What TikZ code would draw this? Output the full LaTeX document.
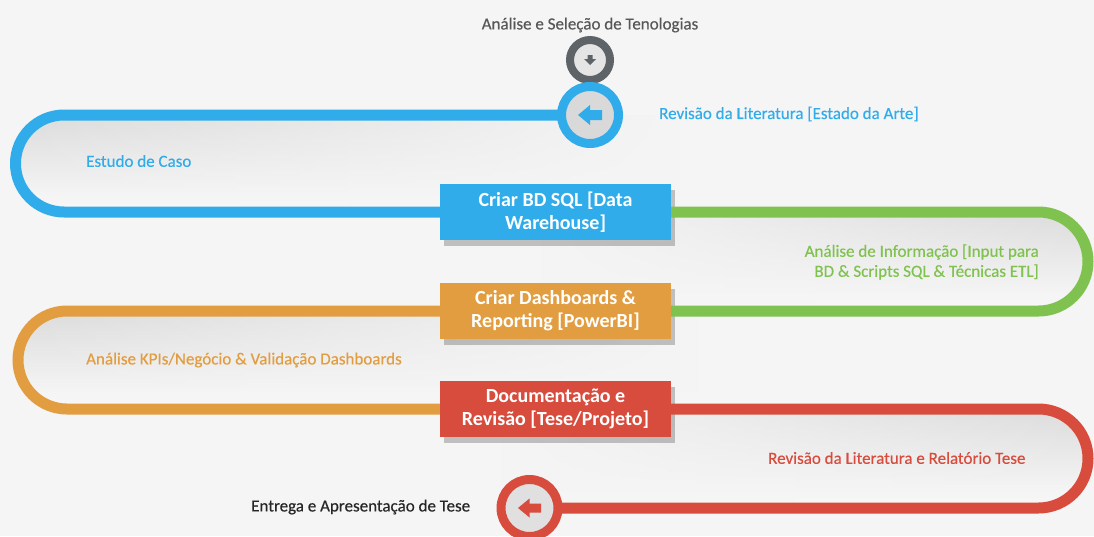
\documentclass[tikz,border=0pt]{standalone}
\usepackage{fontspec}
\setmainfont{Carlito}
\newfontfamily\lblfont{Carlito}[FakeBold=0.35]
\usetikzlibrary{shadows,fadings}
\definecolor{cblue}{HTML}{31ACEA}
\definecolor{cgreen}{HTML}{80C24F}
\definecolor{corange}{HTML}{E29D40}
\definecolor{cred}{HTML}{D84C3E}
\definecolor{cgray}{HTML}{5E6367}
\definecolor{ctext}{HTML}{575757}
\tikzfading[name=fadeR, left color=transparent!0, middle color=transparent!0, right color=transparent!100]
\tikzfading[name=fadeL, left color=transparent!100, middle color=transparent!0, right color=transparent!0]
\begin{document}
\begin{tikzpicture}[x=1pt,y=-1pt,
  box/.style={rectangle, minimum width=231pt, minimum height=56pt, inner sep=0pt,
    text=white, align=center, font=\fontsize{20}{23}\selectfont\bfseries,
    drop shadow={shadow xshift=4pt, shadow yshift=-6pt, opacity=0.22, fill=black}},
  ring/.style={circle, inner sep=0pt, outer sep=0pt},
  flow/.style={line width=11pt},
  lbl/.style={inner sep=0pt, font=\fontsize{17}{20}\selectfont\lblfont},
  band/.style={top color=black!14, bottom color=black!2}]
\useasboundingbox (0,0) rectangle (1094,536);
\fill[black!4] (0,0) rectangle (1094,536);
% loop interior shading
\begin{scope}
  \clip[rounded corners=48.5pt] (15.5,115) rectangle (1000,212);
  \shade[band, path fading=fadeR] (15.5,115) rectangle (680,212);
\end{scope}
\begin{scope}
  \clip[rounded corners=49.5pt] (100,212) rectangle (1088,311);
  \shade[band, path fading=fadeL] (540,212) rectangle (1088,311);
\end{scope}
\begin{scope}
  \clip[rounded corners=49pt] (18,311) rectangle (1000,409);
  \shade[band, path fading=fadeR] (18,311) rectangle (700,409);
\end{scope}
\begin{scope}
  \clip[rounded corners=49.5pt] (100,409) rectangle (1088,508);
  \shade[band, path fading=fadeL] (500,409) rectangle (1088,508);
\end{scope}
% boxes
\node[box, fill=cblue] (b1) at (555.5,212) {Criar BD SQL [Data\\Warehouse]};
\node[box, fill=corange] (b2) at (555.5,311) {Criar Dashboards \&\\Reporting [PowerBI]};
\node[box, fill=cred] (b3) at (555.5,409) {Documentação e\\Revisão [Tese/Projeto]};
% circles
\node[ring, draw=cgray, line width=8pt, fill=black!10, minimum size=40pt] (c0) at (590,60) {};
\node[ring, draw=cblue, line width=9pt, fill=black!15, minimum size=57pt] (c1) at (590,115) {};
\node[ring, draw=cred, line width=9pt, fill=black!12, minimum size=57pt] (c3) at (529.5,508) {};
% connectors
\draw[flow, cblue, rounded corners=48.5pt] (c1.west) -- (15.5,115) -- (15.5,212) -- (b1.west);
\draw[flow, cgreen, rounded corners=49.5pt] (b1.east) -- (1088,212) -- (1088,311) -- (b2.east);
\draw[flow, corange, rounded corners=49pt] (b2.west) -- (18,311) -- (18,409) -- (b3.west);
\draw[flow, cred, rounded corners=49.5pt] (b3.east) -- (1088,409) -- (1088,508) -- (c3.east);
% icons
\fill[cgray, shift={(c0.center)}] (-2.5,-5) -- (2.5,-5) -- (2.5,-1) -- (6,-1) -- (0,5) -- (-6,-1) -- (-2.5,-1) -- cycle;
\fill[cblue, shift={(c1.center)}] (-12,0) -- (0,-10) -- (0,-5) -- (12,-5) -- (12,5) -- (0,5) -- (0,10) -- cycle;
\fill[cred, shift={(c3.center)}] (-11.5,0) -- (0,-9.5) -- (0,-4.5) -- (11.5,-4.5) -- (11.5,4.5) -- (0,4.5) -- (0,9.5) -- cycle;
% labels
\node[lbl, text=ctext] (l0) at (590,25) {Análise e Seleção de Tenologias};
\node[lbl, text=cblue, anchor=west] (l1) at (659,114) {Revisão da Literatura [Estado da Arte]};
\node[lbl, text=cblue, anchor=west] (l2) at (86,161) {Estudo de Caso};
\node[lbl, text=cgreen, anchor=east, align=right] (l3) at (1039,262) {Análise de Informação [Input para\\BD \& Scripts SQL \& Técnicas ETL]};
\node[lbl, text=corange, anchor=west] (l4) at (86,360) {Análise KPIs/Negócio \& Validação Dashboards};
\node[lbl, text=cred, anchor=west] (l5) at (768,458) {Revisão da Literatura e Relatório Tese};
\node[lbl, text=black!85, anchor=west] (l6) at (251,507) {Entrega e Apresentação de Tese};
\end{tikzpicture}
\end{document}
